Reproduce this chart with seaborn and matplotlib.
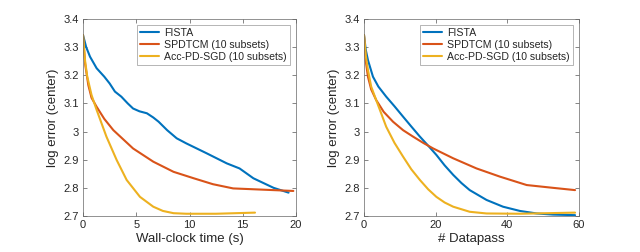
import numpy as np
import pandas as pd
import matplotlib
matplotlib.use('Agg')
import matplotlib.pyplot as plt
import seaborn as sns
from matplotlib.ticker import FuncFormatter

# --- data ---
methods = ['FISTA', 'SPDTCM (10 subsets)', 'Acc-PD-SGD (10 subsets)']
colors = ['#0072BD', '#D95319', '#EDB120']

# left: wall-clock time
fista_t = [0, 0.3, 0.66, 1.28, 2.0, 2.5, 3.0, 3.6, 4.2, 4.7, 5.3, 6.0, 6.6, 7.1, 7.9, 8.8, 9.7,
           11.6, 13.5, 14.7, 16.0, 17.9, 19.3]
fista_te = [3.343, 3.30, 3.266, 3.225, 3.195, 3.171, 3.142, 3.124, 3.10, 3.082, 3.072, 3.065, 3.05,
            3.035, 3.005, 2.976, 2.958, 2.923, 2.887, 2.869, 2.834, 2.800, 2.783]
spd_t = [0, 0.2, 0.5, 0.8, 1.28, 2.0, 2.85, 4.7, 6.6, 8.5, 10.4, 12.2, 14.1, 16.0, 19.75]
spd_te = [3.343, 3.24, 3.165, 3.12, 3.088, 3.045, 3.005, 2.94, 2.893, 2.857, 2.834, 2.813, 2.798,
          2.795, 2.789]
acc_t = [0, 0.2, 0.4, 0.8, 1.28, 2.2, 3.16, 4.1, 5.35, 6.6, 7.5, 8.5, 9.7, 12.5, 16.15]
acc_te = [3.343, 3.25, 3.195, 3.13, 3.077, 2.982, 2.899, 2.828, 2.768, 2.733, 2.718, 2.710, 2.708,
          2.708, 2.712]

# right: datapasses
fista_p = [0, 0.5, 1.1, 2.5, 4.0, 6.2, 8.5, 10.9, 13.2, 15.6, 17.9, 20.2, 22.5, 24.9, 27.2, 29.5,
           34.2, 38.8, 43.5, 48.2, 52.8, 58.9]
fista_pe = [3.343, 3.29, 3.254, 3.195, 3.16, 3.124, 3.09, 3.053, 3.018, 2.982, 2.95, 2.917, 2.88,
            2.846, 2.817, 2.792, 2.757, 2.733, 2.718, 2.709, 2.705, 2.703]
spd_p = [0, 0.5, 1.1, 2.0, 3.4, 5.5, 8.1, 10.9, 13.7, 16.5, 19.3, 24.9, 31.4, 37.9, 45.4, 52.8, 58.9]
spd_pe = [3.343, 3.25, 3.195, 3.15, 3.112, 3.07, 3.035, 3.005, 2.982, 2.96, 2.94, 2.905, 2.869,
          2.84, 2.81, 2.80, 2.792]
acc_p = [0, 0.5, 1.1, 2.0, 3.4, 6.2, 8.5, 10.9, 13.2, 15.6, 17.9, 20.2, 22.5, 24.9, 29.5, 34.2,
         43.5, 58.9]
acc_pe = [3.343, 3.27, 3.219, 3.16, 3.112, 3.017, 2.96, 2.911, 2.866, 2.828, 2.795, 2.768, 2.748,
          2.733, 2.715, 2.709, 2.708, 2.712]


def make_df(xs, ys):
    rows = []
    for m, x, y in zip(methods, xs, ys):
        rows.append(pd.DataFrame({'x': x, 'y': y, 'method': m}))
    return pd.concat(rows, ignore_index=True)


left_df = make_df([fista_t, spd_t, acc_t], [fista_te, spd_te, acc_te])
right_df = make_df([fista_p, spd_p, acc_p], [fista_pe, spd_pe, acc_pe])

sns.set_style('ticks')
plt.rcParams['font.family'] = ['Liberation Sans', 'DejaVu Sans']

fig = plt.figure(figsize=(6.4, 2.52), dpi=100)
ax1 = fig.add_axes([83 / 640, 36 / 252, 213 / 640, 197 / 252])
ax2 = fig.add_axes([364 / 640, 36 / 252, 215 / 640, 197 / 252])

panels = [(ax1, left_df, 'Wall-clock time (s)', 20, [0, 5, 10, 15, 20]),
          (ax2, right_df, '# Datapass', 60, [0, 20, 40, 60])]

for ax, df, xlabel, xmax, xt in panels:
    sns.lineplot(data=df, x='x', y='y', hue='method', hue_order=methods, palette=colors,
                 estimator=None, sort=True, linewidth=1.5, ax=ax)
    ax.set_xlim(0, xmax)
    ax.set_ylim(2.7, 3.4)
    ax.set_xticks(xt)
    ax.set_yticks([2.7, 2.8, 2.9, 3.0, 3.1, 3.2, 3.3, 3.4])
    ax.yaxis.set_major_formatter(FuncFormatter(lambda v, p: f'{v:g}'))
    ax.set_xlabel(xlabel, fontsize=9.5, color='#262626', labelpad=2)
    ax.set_ylabel('log error (center)', fontsize=9.5, color='#262626', labelpad=3)
    ax.tick_params(direction='in', top=True, right=True, length=3, width=0.5,
                   labelsize=8, colors='#555555', labelcolor='#262626', pad=3)
    for s in ax.spines.values():
        s.set_visible(True)
        s.set_color('#666666')
        s.set_linewidth(0.5)
    leg = ax.legend(loc='upper right', fontsize=7.6, frameon=True, fancybox=False,
                    edgecolor='#999999', framealpha=1, handlelength=1.8,
                    handletextpad=0.5, borderaxespad=0.55, borderpad=0.3,
                    labelspacing=0.2, title=None)
    leg.get_frame().set_linewidth(0.5)

fig.savefig('out.png', dpi=100)
